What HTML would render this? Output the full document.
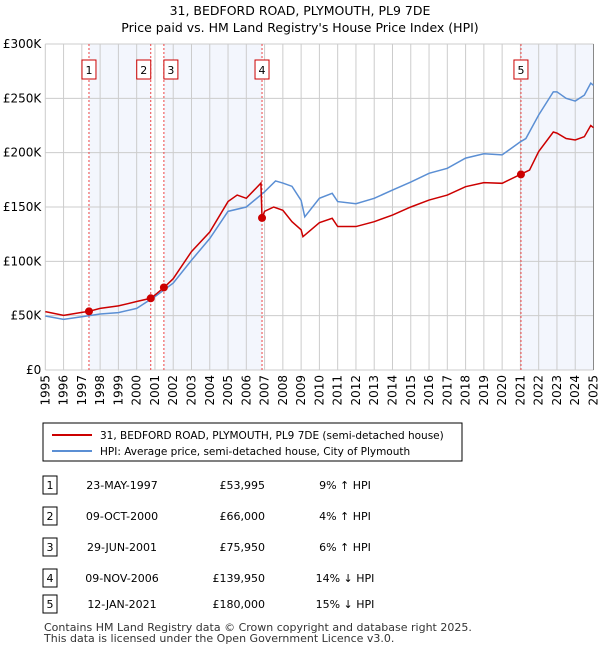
<!DOCTYPE html>
<html><head><meta charset="utf-8"><style>
body{margin:0;width:600px;height:650px;background:#fff;font-family:"DejaVu Sans","Liberation Sans",sans-serif;color:#000;overflow:hidden}
svg{position:absolute;left:0;top:0;font-family:"DejaVu Sans","Liberation Sans",sans-serif}
</style></head><body>
<svg id="c" width="600" height="650">
<text x="300" y="15" text-anchor="middle" font-size="12.5">31, BEDFORD ROAD, PLYMOUTH, PL9 7DE</text>
<text x="300" y="32" text-anchor="middle" font-size="12.5">Price paid vs. HM Land Registry's House Price Index (HPI)</text>
<g id="plot"></g>
<rect x="43" y="423" width="419" height="38" fill="#fff" stroke="#000"/>
<line x1="52" y1="435" x2="92" y2="435" stroke="#cc0000" stroke-width="2"/>
<text x="100" y="439" font-size="10.5">31, BEDFORD ROAD, PLYMOUTH, PL9 7DE (semi-detached house)</text>
<line x1="52" y1="451" x2="92" y2="451" stroke="#5b8fd4" stroke-width="2"/>
<text x="100" y="455" font-size="10.5">HPI: Average price, semi-detached house, City of Plymouth</text>
<g id="tbl"></g>
<text x="44" y="631" font-size="11" fill="#333">Contains HM Land Registry data © Crown copyright and database right 2025.</text>
<text x="44" y="642" font-size="11" fill="#333">This data is licensed under the Open Government Licence v3.0.</text>
</svg>
<script>
const hpiYears=[1995,1996,1997,1998,1999,2000,2001,2002,2003,2004,2005,2006,2007,2007.6,2008,2008.5,2009,2009.2,2010,2010.7,2011,2012,2013,2014,2015,2016,2017,2018,2019,2020,2021,2021.3,2022,2022.8,2023,2023.5,2024,2024.5,2024.85,2025];
const hpiValues=[49.7,46.6,49,51.5,52.8,56.7,67.5,80,101,121,146,150,164,174,172,169,156,141,158,162.6,155,153,158,165.6,173,181,185.6,195,199,198,210,213,234.7,256,256,250,247.5,253,264,262];
const propYears=[1995,1996,1997,1997.4,1998,1999,2000,2000.77,2001,2001.5,2002,2003,2004,2005,2005.5,2006,2006.8,2006.86,2007,2007.5,2008,2008.5,2009,2009.1,2010,2010.7,2011,2012,2013,2014,2015,2016,2017,2018,2019,2020,2021,2021.5,2022,2022.8,2023,2023.5,2024,2024.5,2024.85,2025];
const propValues=[53.7,50.3,53,54,56.7,59,63,66,69,76,84,109,127,155,161,158,172,140,146,150,147,136.5,129,122.7,135.6,139.6,132,132,136.5,142.6,150,156.4,161,168.7,172.4,171.8,180,184,201,219,218,213,211.7,214.7,225,223];
const saleYears=[1997.39,2000.77,2001.49,2006.86,2021.03];
const saleValues=[53.995,66,75.95,139.95,180];
const saleLabels=["1","2","3","4","5"];
const saleDates=["23-MAY-1997","09-OCT-2000","29-JUN-2001","09-NOV-2006","12-JAN-2021"];
const salePrices=["£53,995","£66,000","£75,950","£139,950","£180,000"];
const saleHpi=["9% ↑ HPI","4% ↑ HPI","6% ↑ HPI","14% ↓ HPI","15% ↓ HPI"];
const yTicks=[0,50,100,150,200,250,300];
const yTickLabels=["£0","£50K","£100K","£150K","£200K","£250K","£300K"];
const xTicks=[1995,1996,1997,1998,1999,2000,2001,2002,2003,2004,2005,2006,2007,2008,2009,2010,2011,2012,2013,2014,2015,2016,2017,2018,2019,2020,2021,2022,2023,2024,2025];

const L=45.3,R=593.5,T=44,B=370;
const X=y=>L+(y-1995)*(R-L)/30;
const Y=v=>B-v*(B-T)/300;
const NS="http://www.w3.org/2000/svg";
const g=document.getElementById('plot');
function mk(tag,attrs,parent){const e=document.createElementNS(NS,tag);for(const k in attrs)e.setAttribute(k,attrs[k]);(parent||g).appendChild(e);return e;}
const shades=[[0,1],[2,3],[4,null]];
shades.forEach(s=>{const x1=X(saleYears[s[0]]),x2=s[1]===null?R:X(saleYears[s[1]]);
const r=mk('rect',{x:x1,y:T,width:x2-x1,height:B-T,fill:'#f3f6fd'});

});
xTicks.forEach(t=>{const l=mk('line',{x1:X(t),y1:T,x2:X(t),y2:B,stroke:'#cccccc','stroke-width':1});


const tx=mk('text',{x:0,y:0,'font-size':12,'text-anchor':'end',transform:`translate(${X(t)+4},${B+5}) rotate(-90)`});
tx.textContent=t;

});
yTicks.forEach((t,i)=>{const l=mk('line',{x1:L,y1:Y(t),x2:R,y2:Y(t),stroke:'#cccccc','stroke-width':1});


const tx=mk('text',{x:L-4,y:Y(t)+4,'font-size':12,'text-anchor':'end'});
tx.textContent=yTickLabels[i];

});
const ra=mk('line',{x1:R,y1:T,x2:R,y2:B,stroke:'#888'});


saleYears.forEach((s,i)=>{const l=mk('line',{x1:X(s),y1:T,x2:X(s),y2:B,stroke:'#ee4444','stroke-width':1,'stroke-dasharray':'2,2'});


const bx=X(s)-(i===1?7:i===2?-7:0);
const r=mk('rect',{x:bx-7,y:60,width:14,height:19,fill:'#fff',stroke:'#cc0000'});


const tx=mk('text',{x:bx,y:74,'font-size':11,'text-anchor':'middle'});
tx.textContent=saleLabels[i];

});
const hp=mk('polyline',{points:hpiYears.map((y,i)=>X(y)+','+Y(hpiValues[i])).join(' '),fill:'none',stroke:'#5b8fd4','stroke-width':1.5});


const pp=mk('polyline',{points:propYears.map((y,i)=>X(y)+','+Y(propValues[i])).join(' '),fill:'none',stroke:'#cc0000','stroke-width':1.5});


saleYears.forEach((s,i)=>{const c=mk('circle',{cx:X(s),cy:Y(saleValues[i]),r:4,fill:'#cc0000'});

});
const tb=document.getElementById('tbl');
const rowY=[485,516,547,578,604];
saleLabels.forEach((lab,i)=>{const y=rowY[i];
const r=mk('rect',{x:43,y:y-9,width:14,height:18,fill:'#fff',stroke:'#000'},tb);


const cells=[[50,lab,'middle'],[122,saleDates[i],'middle'],[265,salePrices[i],'end'],[345,saleHpi[i],'middle']];
cells.forEach(c=>{const t=mk('text',{x:c[0],y:y+4,'font-size':11,'text-anchor':c[2]},tb);
t.textContent=c[1];

});});
</script>
</body></html>
